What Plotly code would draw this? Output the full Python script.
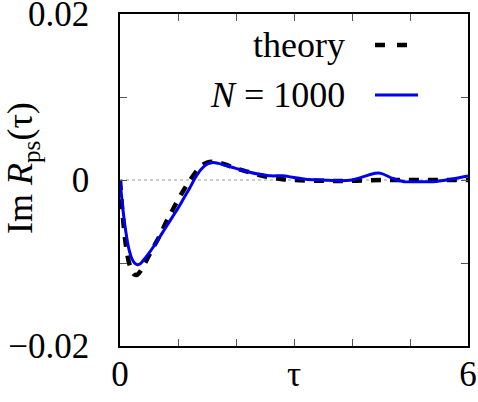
import plotly.graph_objects as go

tau_theory = [0, 0.05, 0.1, 0.15, 0.2, 0.25, 0.3, 0.35, 0.4, 0.5, 0.6, 0.7, 0.8, 0.9, 1.0,
              1.1, 1.2, 1.3, 1.4, 1.5, 1.6, 1.7, 1.8, 2.0, 2.2, 2.4, 2.6, 2.8, 3.0, 3.5,
              4.0, 4.5, 5.0, 5.5, 6.0]
im_theory = [0, -0.0045, -0.0078, -0.0098, -0.0109, -0.0114, -0.0114, -0.0110, -0.0104,
             -0.0091, -0.0078, -0.0065, -0.0050, -0.0037, -0.0024, -0.0012, -0.0001,
             0.0009, 0.0017, 0.0021, 0.0022, 0.0021, 0.0019, 0.0014, 0.0010, 0.0006,
             0.0003, 0.0001, 0.0, -0.0001, -0.0001, 0.0, 0.0, 0.0, 0.0]

tau_sim = [0, 0.05, 0.1, 0.15, 0.2, 0.25, 0.3, 0.35, 0.4, 0.5, 0.6, 0.7, 0.8, 0.9, 1.0,
           1.1, 1.2, 1.3, 1.4, 1.5, 1.6, 1.7, 1.8, 2.0, 2.2, 2.4, 2.6, 2.8, 3.0, 3.2,
           3.5, 3.8, 4.0, 4.2, 4.4, 4.5, 4.7, 4.9, 5.1, 5.4, 5.7, 6.0]
im_sim = [0, -0.0035, -0.0062, -0.0082, -0.0094, -0.0100, -0.0102, -0.0101, -0.0097,
          -0.0088, -0.0078, -0.0067, -0.0056, -0.0045, -0.0034, -0.0022, -0.0010,
          0.0003, 0.0013, 0.0019, 0.0021, 0.0020, 0.0018, 0.0014, 0.0010, 0.0007,
          0.0005, 0.0005, 0.0003, 0.0001, 0.0, -0.0001, 0.0, 0.0004, 0.0008, 0.0008,
          0.0002, -0.0002, -0.0002, -0.0002, 0.0001, 0.0005]

x_tickvals = [0, 1, 2, 3, 4, 5, 6]
x_ticktext = ["0", "", "", "τ", "", "", "6"]
y_tickvals = [-0.02, -0.01, 0, 0.01, 0.02]
y_ticktext = ["−0.02", "", "0", "", "0.02"]

FONT = "Liberation Serif"
FS = 35

fig = go.Figure()
fig.add_trace(go.Scatter(x=tau_theory, y=im_theory, mode="lines", name="theory",
                         line=dict(color="black", width=4.5, dash="10px,9px", shape="spline")))
fig.add_trace(go.Scatter(x=tau_sim, y=im_sim, mode="lines", name="N = 1000",
                         line=dict(color="#0000ee", width=3, shape="spline")))

# zero axis
fig.add_shape(type="line", xref="paper", yref="y", x0=0, x1=1, y0=0, y1=0,
              line=dict(color="#999999", width=1, dash="3px,3px"), layer="below")

W, H = 478, 402
L, R, T, B = 120, 10, 14, 56
pw, ph = W - L - R, H - T - B

def px(x):
    return (x - L) / pw

def py(y):
    return 1 - (y - T) / ph

# legend
fig.add_annotation(text="theory", x=px(347), y=py(45), xref="paper", yref="paper",
                   xanchor="right", yanchor="middle", showarrow=False,
                   font=dict(family=FONT, size=FS + 1, color="black"))
fig.add_annotation(text="<i>N</i> = 1000", x=px(347), y=py(95), xref="paper", yref="paper",
                   xanchor="right", yanchor="middle", showarrow=False,
                   font=dict(family=FONT, size=FS + 1, color="black"))
fig.add_shape(type="line", xref="paper", yref="paper", x0=px(375), x1=px(408),
              y0=py(45), y1=py(45), line=dict(color="black", width=4.5, dash="10px,12px"))
fig.add_shape(type="line", xref="paper", yref="paper", x0=px(375), x1=px(418),
              y0=py(95), y1=py(95), line=dict(color="#0000ee", width=3))

# y title
fig.add_annotation(text="Im <i>R</i><sub>ps</sub>(τ)", x=px(22), y=py(168),
                   xref="paper", yref="paper", xanchor="center", yanchor="middle",
                   textangle=-90, showarrow=False,
                   font=dict(family=FONT, size=FS + 1, color="black"))

fig.update_layout(
    width=W, height=H, margin=dict(l=L, r=R, t=T, b=B, autoexpand=False),
    paper_bgcolor="white", plot_bgcolor="white", showlegend=False,
    font=dict(family=FONT, size=FS, color="black"),
)
fig.update_xaxes(range=[0, 6], tickvals=x_tickvals, ticktext=x_ticktext,
                 ticks="inside", ticklen=7, tickcolor="#555", tickwidth=1,
                 showline=True, linecolor="black", linewidth=1.5, mirror="ticks",
                 showgrid=False, zeroline=False, ticklabelstandoff=-4,
                 automargin=False, ticklabeloverflow="allow")
fig.update_yaxes(range=[-0.02, 0.02], tickvals=y_tickvals, ticktext=y_ticktext,
                 ticks="inside", ticklen=7, tickcolor="#555", tickwidth=1,
                 showline=True, linecolor="black", linewidth=1.5, mirror="ticks",
                 showgrid=False, zeroline=False, ticklabelstandoff=22,
                 automargin=False, ticklabeloverflow="allow")

fig.write_html("out.html", config={"displayModeBar": False},
               post_script="document.body.style.margin='0';document.body.style.overflow='hidden';")
